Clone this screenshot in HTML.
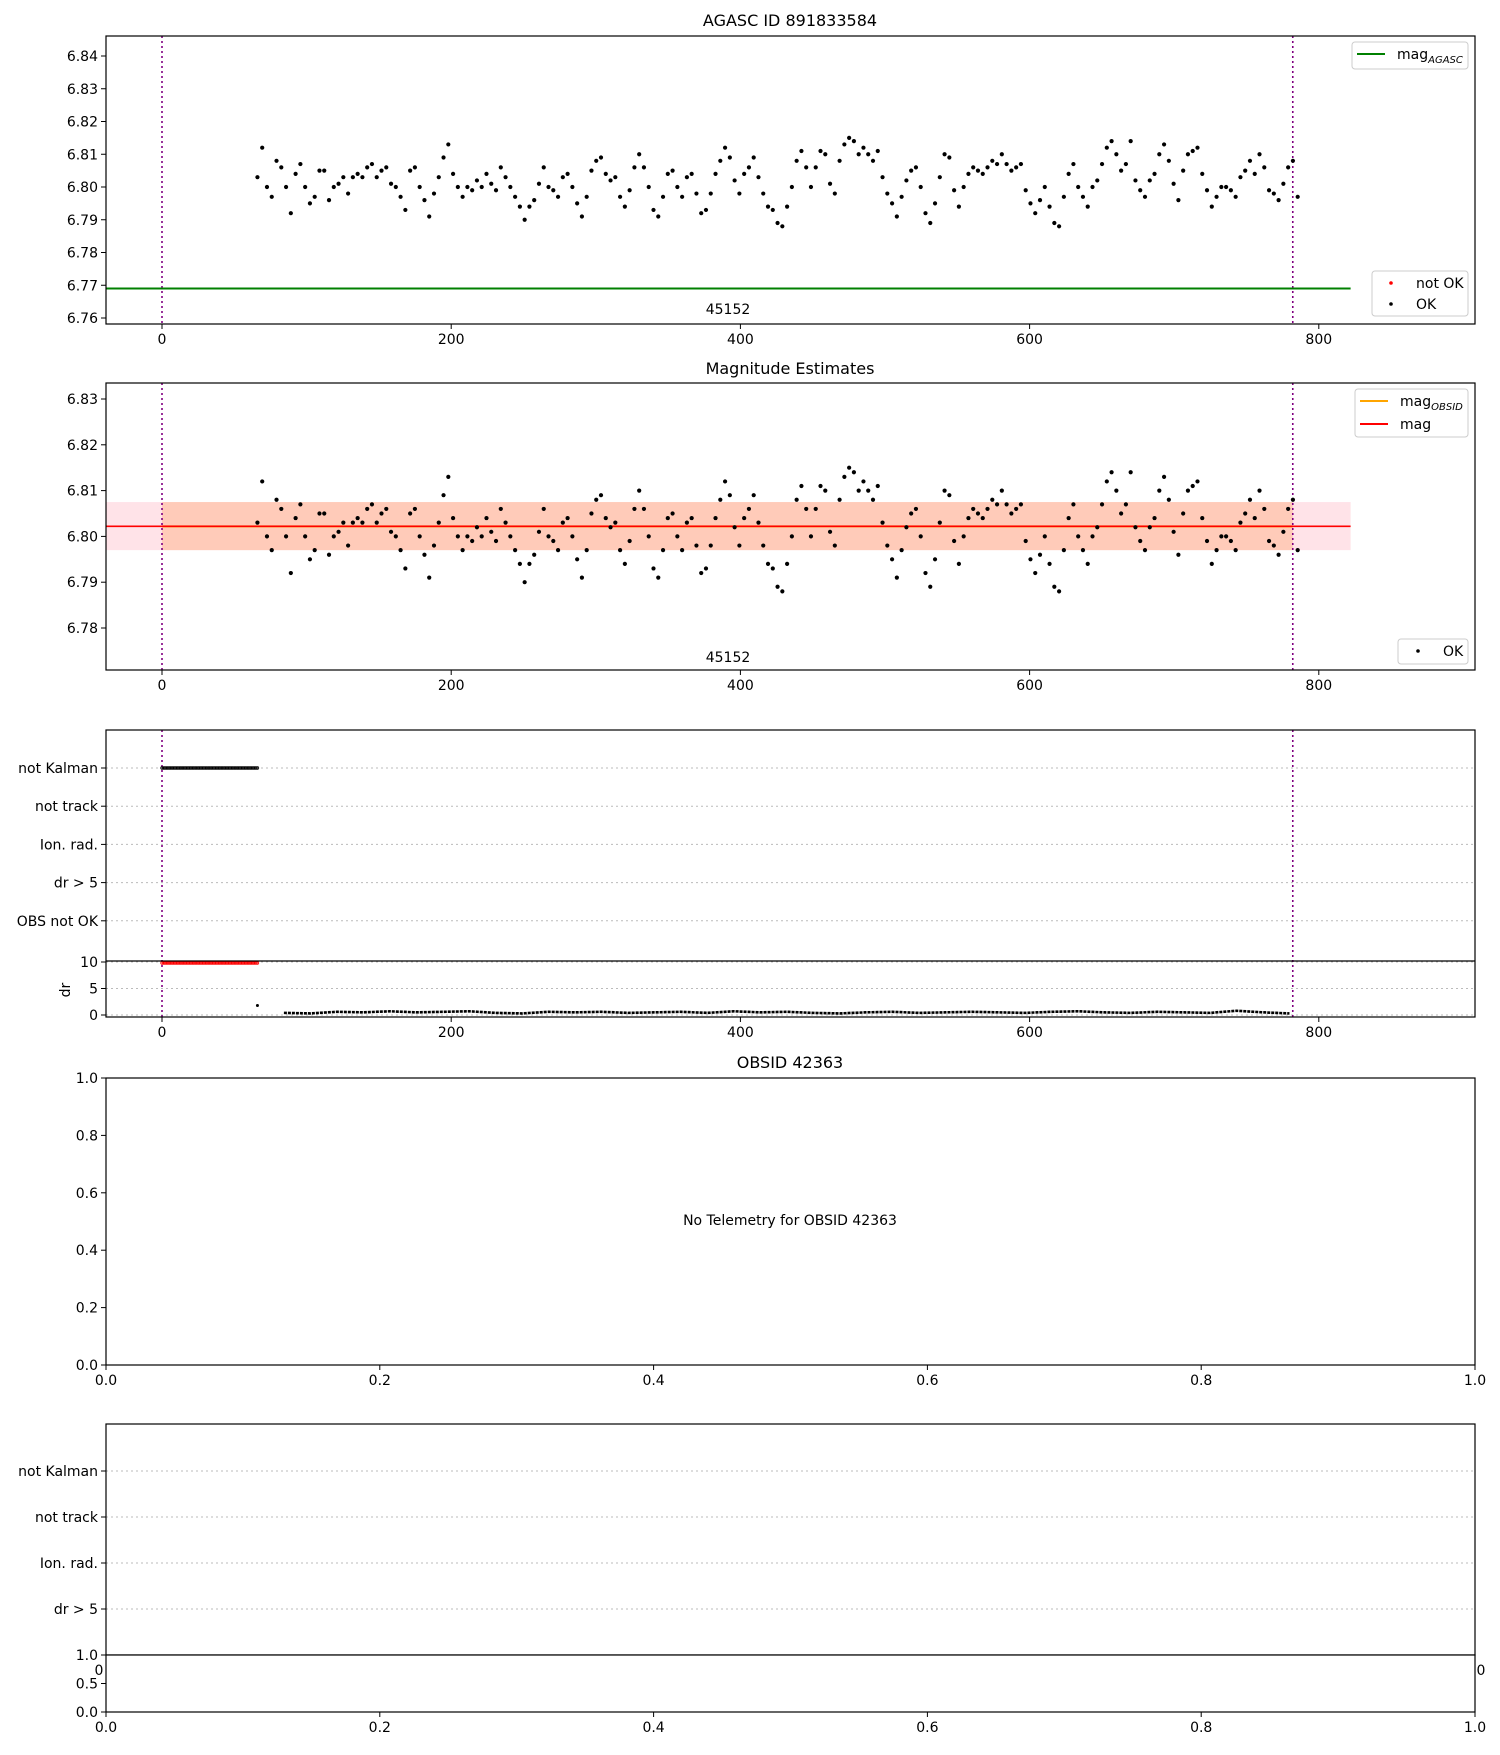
<!DOCTYPE html>
<html><head><meta charset="utf-8"><style>
body{margin:0;background:#fff}
svg text{font-family:"DejaVu Sans","Liberation Sans",sans-serif;font-size:14px;fill:#000}
</style></head><body>
<svg id="fig" width="1500" height="1750" xmlns="http://www.w3.org/2000/svg"></svg>
<script>
// ---- data ----
const magT0 = 66, magDt = 3.3;
const magValues = [
6.803,6.812,6.800,6.797,6.808,6.806,6.800, 6.792,6.804,6.807,6.800,6.795,6.797,6.805,
6.805,6.796,6.800,6.801,6.803,6.798, 6.803,6.804,6.803,6.806,6.807,6.803,
6.805,6.806,6.801,6.800,6.797,6.793, 6.805,6.806,6.800,6.796,6.791,6.798,
6.803,6.809,6.813,6.804,6.800,6.797, 6.800,6.799,6.802,6.800,6.804,6.801,
6.799,6.806,6.803,6.800,6.797,6.794, 6.790,6.794,6.796,6.801,6.806,6.800,
6.799,6.797,6.803,6.804,6.800,6.795, 6.791,6.797,6.805,6.808,6.809,6.804,
6.802,6.803,6.797,6.794,6.799,6.806, 6.810,6.806,6.800,6.793,6.791,6.797,
6.804,6.805,6.800,6.797,6.803,6.804, 6.798,6.792,6.793,6.798,6.804,6.808,
6.812,6.809,6.802,6.798,6.804,6.806, 6.809,6.803,6.798,6.794,6.793,6.789,
6.788,6.794,6.800,6.808,6.811,6.806, 6.800,6.806,6.811,6.810,6.801,6.798,
6.808,6.813,6.815,6.814,6.810,6.812, 6.810,6.808,6.811,6.803,6.798,6.795,
6.791,6.797,6.802,6.805,6.806,6.800, 6.792,6.789,6.795,6.803,6.810,6.809,
6.799,6.794,6.800,6.804,6.806,6.805, 6.804,6.806,6.808,6.807,6.810,6.807,
6.805,6.806,6.807,6.799,6.795,6.792, 6.796,6.800,6.794,6.789,6.788,6.797,
6.804,6.807,6.800,6.797,6.794,6.800, 6.802,6.807,6.812,6.814,6.810,6.805,
6.807,6.814,6.802,6.799,6.797,6.802, 6.804,6.810,6.813,6.808,6.801,6.796,
6.805,6.810,6.811,6.812,6.804,6.799, 6.794,6.797,6.800,6.800,6.799,6.797,
6.803,6.805,6.808,6.804,6.810,6.806, 6.799,6.798,6.796,6.801,6.806,6.808,6.797];
const drT0 = 66, drDt = 18.3;
const drValues = [1.8,0.4,0.3,0.6,0.5,0.7,0.5,0.6,0.7,0.4,0.3,0.6,0.5,0.6,0.4,0.5,0.6,0.4,0.7,0.5,0.6,0.4,0.3,0.5,0.6,0.4,0.5,0.6,0.5,0.4,0.6,0.7,0.5,0.4,0.6,0.5,0.4,0.8,0.5,0.3];
const flagStart = 0, flagEnd = 66;
const magAgasc = 6.769, magMean = 6.8022, magLo = 6.797, magHi = 6.8075;
const obsStart = 0, obsEnd = 782, lineEnd = 822;
const mag1Ticks = [6.76,6.77,6.78,6.79,6.80,6.81,6.82,6.83,6.84];
const mag2Ticks = [6.78,6.79,6.80,6.81,6.82,6.83];
const xTicks = [0,200,400,600,800];
const flagLabels = ["not Kalman","not track","Ion. rad.","dr > 5","OBS not OK"];
const flagLabels2 = ["not Kalman","not track","Ion. rad.","dr > 5"];
const drTicks = [0,5,10];
const unitTicks = [0,0.2,0.4,0.6,0.8,1.0];

const NS="http://www.w3.org/2000/svg", svg=document.getElementById('fig');
function el(tag,attrs,parent){const e=document.createElementNS(NS,tag);for(const k in attrs)e.setAttribute(k,attrs[k]);(parent||svg).appendChild(e);return e;}
function txt(s,x,y,anchor,parent,size){const t=el('text',{x:x,y:y,'text-anchor':anchor||'middle'},parent);if(size)t.style.fontSize=size+'px';t.textContent=s;return t;}
const L=106,R=1475;
const xs=v=>162+(v)*1.446;
const ux=v=>L+v*(R-L);
function lin(d0,d1,p0,p1){return v=>p0+(v-d0)*(p1-p0)/(d1-d0);}
function frame(top,bot,name){const r=el('rect',{x:L,y:top,width:R-L,height:bot-top,fill:'none',stroke:'#000','stroke-width':1.2});}
function xAxis(bot,ticks,fmt,map,name){const g=el('g',{});
 ticks.forEach(t=>{const x=map(t);el('line',{x1:x,x2:x,y1:bot,y2:bot+5,stroke:'#000'},g);txt(fmt(t),x,bot+20,'middle',g);});}
function yAxis(ticks,map,fmt,name){const g=el('g',{});
 ticks.forEach(t=>{const y=map(t);el('line',{x1:L-5,x2:L,y1:y,y2:y,stroke:'#000'},g);txt(fmt(t),L-8,y+5,'end',g);});}
function vlines(top,bot){[obsStart,obsEnd].forEach(v=>{const l=el('line',{x1:xs(v),x2:xs(v),y1:top,y2:bot,stroke:'purple','stroke-width':1.6,'stroke-dasharray':'2,3'});});}
function scatter(ymap,name){const g=el('g',{});
 magValues.forEach((v,i)=>{el('circle',{cx:xs(magT0+i*magDt),cy:ymap(v),r:2.1,fill:'#000'},g);});}

// ---- Panel 1 ----
const y1=lin(6.84,6.76,56,318);
txt('AGASC ID 891833584',790,26,'middle',null,16);
vlines(36,324);
const g1=el('line',{x1:L,x2:xs(lineEnd),y1:y1(magAgasc),y2:y1(magAgasc),stroke:'green','stroke-width':2});

scatter(y1,'mag-scatter-1');
txt('45152',728,314);
frame(36,324,'axes-1');
yAxis(mag1Ticks,y1,v=>v.toFixed(2),'y-axis-1');
xAxis(324,xTicks,String,xs,'x-axis-1');
(function(){const g=el('g',{});
 el('rect',{x:1352,y:42,width:116,height:27,rx:3,fill:'#fff',stroke:'#ccc'},g);
 el('line',{x1:1357,x2:1385,y1:54,y2:54,stroke:'green','stroke-width':2},g);
 const t=txt('mag',1397,59,'start',g);const s=el('tspan',{dy:4},t);s.textContent='AGASC';s.style.fontSize='10px';s.style.fontStyle='italic';
 const g2=el('g',{});
 el('rect',{x:1372,y:271,width:96,height:45,rx:3,fill:'#fff',stroke:'#ccc'},g2);
 el('circle',{cx:1391,cy:283,r:1.8,fill:'red'},g2);txt('not OK',1416,288,'start',g2);
 el('circle',{cx:1391,cy:304,r:1.8,fill:'#000'},g2);txt('OK',1416,309,'start',g2);})();

// ---- Panel 2 ----
const y2=lin(6.83,6.78,399,628);
txt('Magnitude Estimates',790,374,'middle',null,16);
let b=el('rect',{x:L,y:y2(magHi),width:xs(lineEnd)-L,height:y2(magLo)-y2(magHi),fill:'pink',opacity:0.45});
b=el('rect',{x:xs(obsStart),y:y2(magHi),width:xs(obsEnd)-xs(obsStart),height:y2(magLo)-y2(magHi),fill:'#ffb38a',opacity:0.5});
vlines(383,670);
b=el('line',{x1:xs(obsStart),x2:xs(obsEnd),y1:y2(magMean),y2:y2(magMean),stroke:'orange','stroke-width':2});
b=el('line',{x1:L,x2:xs(lineEnd),y1:y2(magMean),y2:y2(magMean),stroke:'red','stroke-width':1.6});
scatter(y2,'mag-scatter-2');
txt('45152',728,662);
frame(383,670,'axes-2');
yAxis(mag2Ticks,y2,v=>v.toFixed(2),'y-axis-2');
xAxis(670,xTicks,String,xs,'x-axis-2');
(function(){const g=el('g',{});
 el('rect',{x:1355,y:389,width:113,height:48,rx:3,fill:'#fff',stroke:'#ccc'},g);
 el('line',{x1:1360,x2:1388,y1:401,y2:401,stroke:'orange','stroke-width':2},g);
 const t=txt('mag',1400,406,'start',g);const s=el('tspan',{dy:4},t);s.textContent='OBSID';s.style.fontSize='10px';s.style.fontStyle='italic';
 el('line',{x1:1360,x2:1388,y1:424,y2:424,stroke:'red','stroke-width':2},g);txt('mag',1400,429,'start',g);
 const g2=el('g',{});
 el('rect',{x:1398,y:639,width:70,height:25,rx:3,fill:'#fff',stroke:'#ccc'},g2);
 el('circle',{cx:1418,cy:651,r:1.8,fill:'#000'},g2);txt('OK',1443,656,'start',g2);})();

// ---- Panel 3 flags + dr ----
const fy=i=>768+i*38.2;
const ydr=lin(0,10,1015,962);
flagLabels.forEach((s,i)=>{const l=el('line',{x1:L,x2:R,y1:fy(i),y2:fy(i),stroke:'#bbb','stroke-dasharray':'2,3'});});
drTicks.forEach(t=>{el('line',{x1:L,x2:R,y1:ydr(t),y2:ydr(t),stroke:'#bbb','stroke-dasharray':'2,3'});});
vlines(730,1017);
(function(){const g=el('g',{});
 for(let v=flagStart;v<=flagEnd;v+=1){el('circle',{cx:xs(v),cy:fy(0),r:1.3,fill:'none',stroke:'#000','stroke-width':0.8},g);}
 const g2=el('g',{});
 for(let v=flagStart;v<=flagEnd;v+=1){el('circle',{cx:xs(v),cy:ydr(10)+1,r:1.3,fill:'none',stroke:'red','stroke-width':0.8},g2);}
 const g3=el('g',{});
 let pts=drValues.map((v,i)=>xs(drT0+i*drDt)+','+ydr(v));
 el('polyline',{points:pts.slice(1).join(' '),fill:'none',stroke:'#000','stroke-width':2.6,'stroke-dasharray':'3,1'},g3);
 el('circle',{cx:xs(drT0),cy:ydr(drValues[0]),r:1.5,fill:'#000'},g3);})();
frame(730,1017,'axes-3');
el('line',{x1:L,x2:R,y1:961,y2:961,stroke:'#000','stroke-width':1.2});
yAxis([0,1,2,3,4],fy,i=>flagLabels[i],'flag-axis');
yAxis(drTicks,ydr,String,'dr-axis');
const dl=txt('dr',70,990,'middle');dl.setAttribute('transform','rotate(-90 70 990)');
xAxis(1017,xTicks,String,xs,'x-axis-3');

// ---- Panel 4 ----
const y4=lin(0,1,1365,1078);
txt('OBSID 42363',790,1068,'middle',null,16);
frame(1078,1365,'axes-4');
yAxis(unitTicks,y4,v=>v.toFixed(1),'y-axis-4');
xAxis(1365,unitTicks,v=>v.toFixed(1),ux,'x-axis-4');
txt('No Telemetry for OBSID 42363',790,1225);

// ---- Panel 5 ----
const fy5=i=>1471+i*46;
flagLabels2.forEach((s,i)=>{el('line',{x1:L,x2:R,y1:fy5(i),y2:fy5(i),stroke:'#bbb','stroke-dasharray':'2,3'});});
frame(1424,1655,'axes-5');
yAxis([0,1,2,3],fy5,i=>flagLabels2[i],'flag-axis-5');
txt('0',99,1675,'middle');txt('0',1481,1675,'middle');
const y5=lin(0,1,1712,1655);
el('rect',{x:L,y:1655,width:R-L,height:57,fill:'#fff',stroke:'#000','stroke-width':1.2});
yAxis([0,0.5,1.0],y5,v=>v.toFixed(1),'y-axis-6');
xAxis(1712,unitTicks,v=>v.toFixed(1),ux,'x-axis-6');
</script>
</body></html>
